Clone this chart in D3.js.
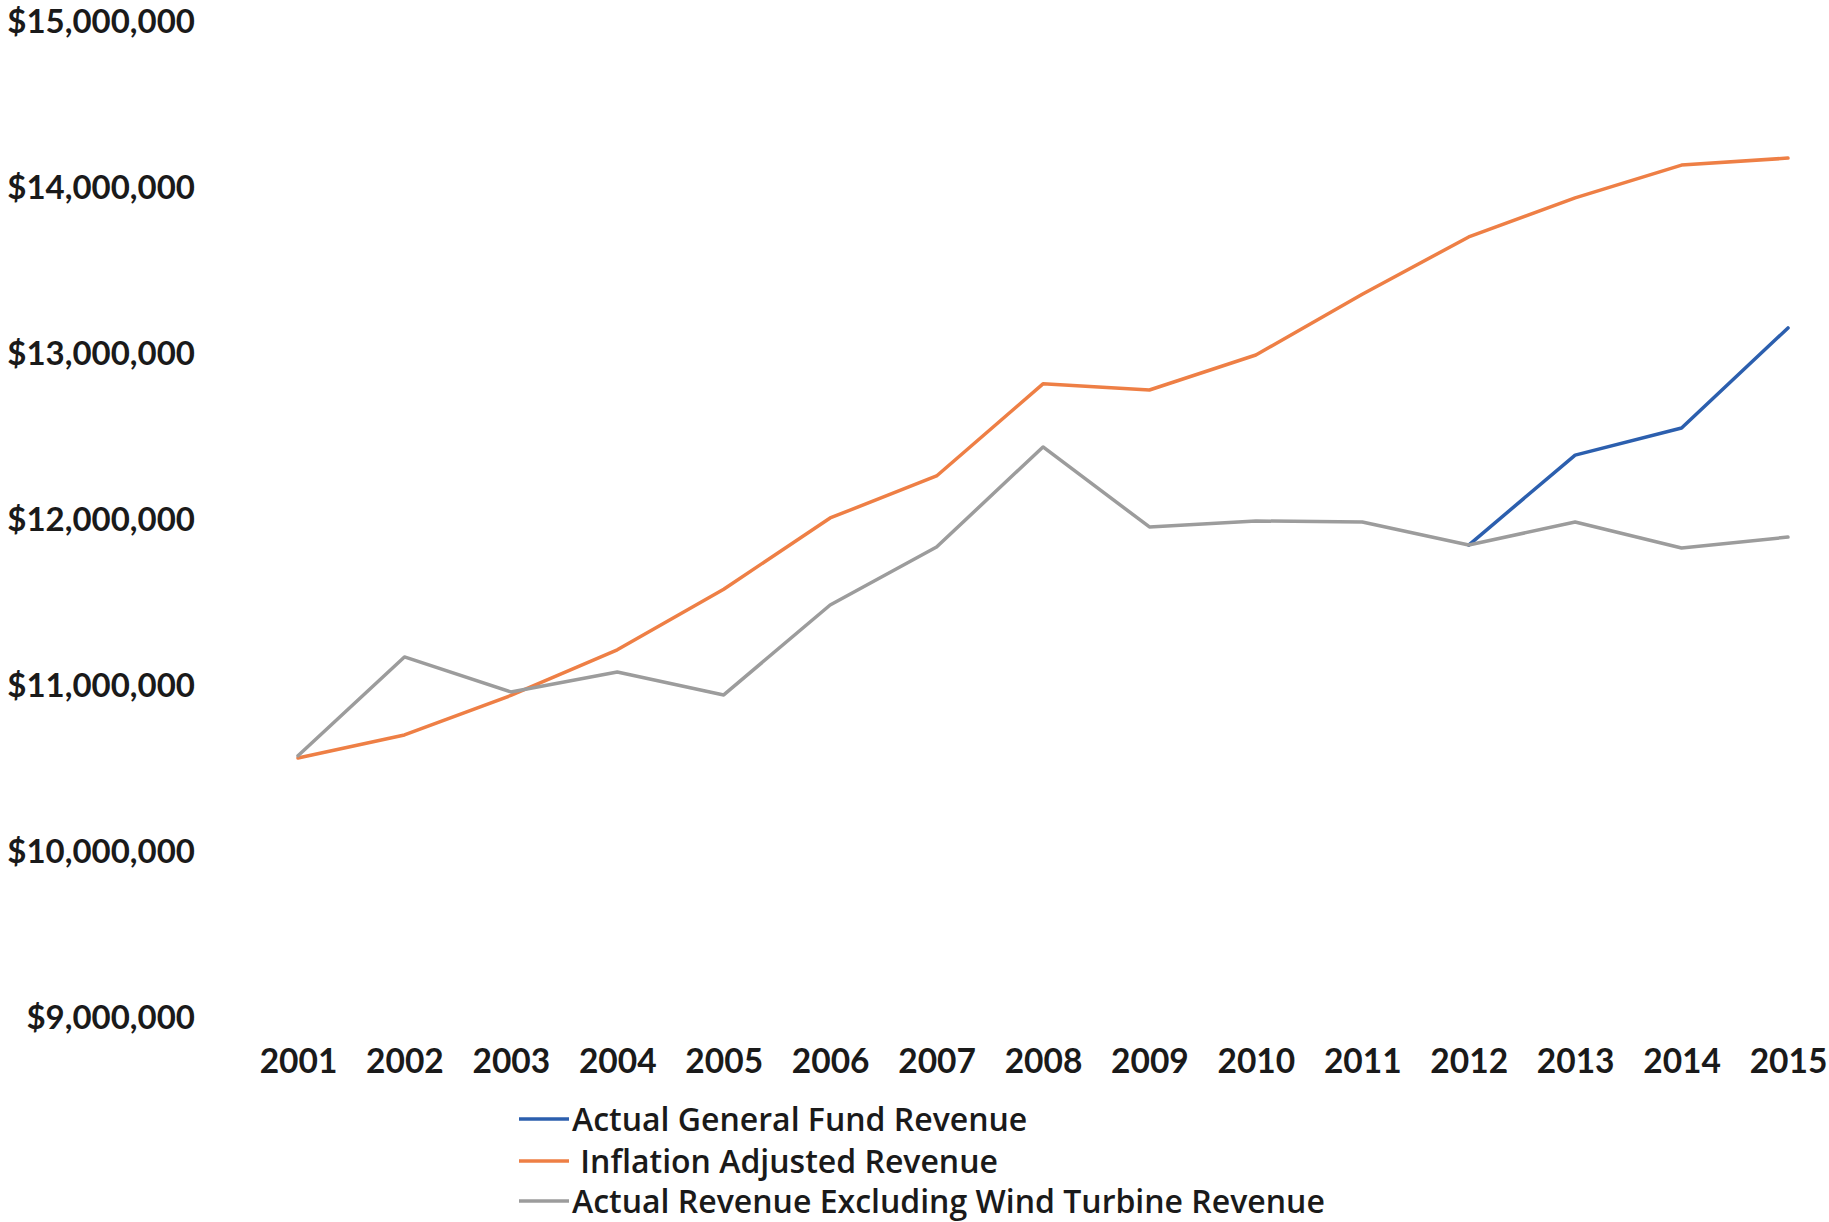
<!DOCTYPE html>
<html>
<head>
<meta charset="utf-8">
<script src="https://cdn.jsdelivr.net/npm/d3@7"></script>
<style>
  body { margin: 0; background: #fff; }
  text { font-family: Lato, "Open Sans", sans-serif; fill: #1a1a1a; }
</style>
</head>
<body>
<div id="chart"></div>
<script>
// data
const years = [2001, 2002, 2003, 2004, 2005, 2006, 2007, 2008, 2009, 2010, 2011, 2012, 2013, 2014, 2015];
const actualGeneralFund = [null, null, null, null, null, null, null, null, null, null, null,
    11819000, 12361000, 12524000, 13127000];
const inflationAdjusted = [10536000, 10675000, 10913000, 11188000, 11553000, 11982000, 12235000,
    12790000, 12753000, 12964000, 13330000, 13675000, 13910000, 14108000, 14150000];
const excludingWind = [10550000, 11145000, 10934000, 11054000, 10916000, 11458000, 11807000,
    12410000, 11928000, 11964000, 11958000, 11819000, 11958000, 11801000, 11867000];
const yTicks = [9000000, 10000000, 11000000, 12000000, 13000000, 14000000, 15000000];
const seriesNames = ["Actual General Fund Revenue", " Inflation Adjusted Revenue", "Actual Revenue Excluding Wind Turbine Revenue"];

const colors = ["#2c5fae", "#ee7f45", "#9c9c9c"];

const W = 1829, H = 1222;

const svg = d3.select("#chart")
    .append("svg")
    .attr("width", W)
    .attr("height", H);

// scales
const x = d3.scaleLinear()
    .domain([2001, 2015])
    .range([298, 1788]);

const y = d3.scaleLinear()
    .domain([9000000, 15000000])
    .range([1013, 17]);

// y axis, labels only
const yAxis = svg.append("g")
    .attr("transform", "translate(195,0)")
    .call(d3.axisLeft(y)
        .tickValues(yTicks)
        .tickSize(0)
        .tickPadding(0)
        .tickFormat(d => "$" + d3.format(",")(d)));
yAxis.select(".domain").remove();
yAxis.selectAll("text")
    .attr("dy", "0.46em")
    .style("font-family", "Lato, sans-serif")
    .style("font-size", "33px")
    .style("font-weight", "700")
    .attr("fill", "#1a1a1a");

// x axis, labels only
const xAxis = svg.append("g")
    .attr("transform", "translate(0,1049)")
    .call(d3.axisBottom(x)
        .tickValues(years)
        .tickSize(0)
        .tickPadding(0)
        .tickFormat(d3.format("d")));
xAxis.select(".domain").remove();
xAxis.selectAll("text")
    .style("font-family", "Lato, sans-serif")
    .style("font-size", "33.5px")
    .style("font-weight", "700")
    .attr("fill", "#1a1a1a");

// lines
const line = d3.line()
    .defined(d => d[1] != null)
    .x(d => x(d[0]))
    .y(d => y(d[1]));

const seriesValues = [actualGeneralFund, inflationAdjusted, excludingWind];

seriesValues.forEach((vals, i) => {
    svg.append("path")
        .datum(years.map((yr, j) => [yr, vals[j]]))
        .attr("fill", "none")
        .attr("stroke", colors[i])
        .attr("stroke-width", 3.5)
        .attr("stroke-linejoin", "round")
        .attr("stroke-linecap", "round")
        .attr("d", line);
});

// legend
const legend = svg.append("g")
    .selectAll("g")
    .data(seriesNames)
    .join("g")
    .attr("transform", (d, i) => `translate(519,${[1119, 1161, 1201][i]})`);

legend.append("line")
    .attr("x1", 0)
    .attr("x2", 50)
    .attr("stroke", (d, i) => colors[i])
    .attr("stroke-width", 3.5);

legend.append("text")
    .attr("x", 53)
    .attr("dy", "0.36em")
    .style("font-family", "'Open Sans', sans-serif")
    .style("font-size", "32px")
    .style("font-weight", "600")
    .style("white-space", "pre")
    .text(d => d);
</script>
</body>
</html>
